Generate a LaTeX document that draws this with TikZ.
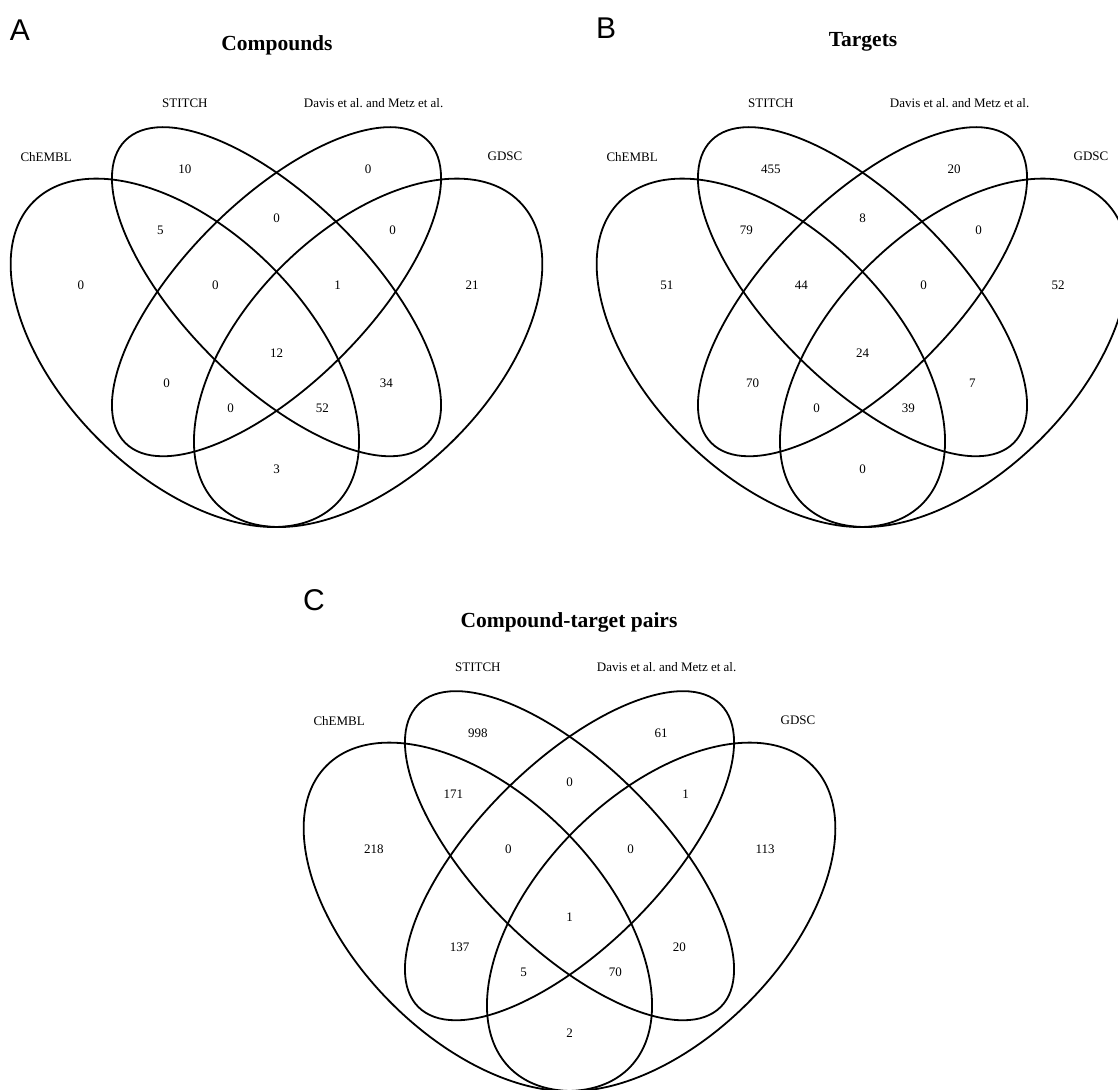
\documentclass[tikz,border=0pt]{standalone}
\usepackage{fontspec}
\setmainfont{Liberation Serif}
\newfontfamily\letterfont{Liberation Sans}

% four ellipses and the set names, in unit coordinates
\newcommand{\quadvenn}[1]{%
  \draw[set] (0.35,0.47) ellipse [x radius=0.35, y radius=0.20, rotate=-45];
  \draw[set] (0.50,0.57) ellipse [x radius=0.35, y radius=0.15, rotate=-45];
  \draw[set] (0.50,0.57) ellipse [x radius=0.35, y radius=0.15, rotate=45];
  \draw[set] (0.65,0.47) ellipse [x radius=0.35, y radius=0.20, rotate=45];
  \node[setname] (#1-chembl) at (0.123,0.791) {ChEMBL};
  \node[setname] (#1-stitch) at (0.350,0.879) {STITCH};
  \node[setname] (#1-davis)  at (0.659,0.879) {Davis et al.\ and Metz et al.};
  \node[setname] (#1-gdsc)   at (0.874,0.791) {GDSC};
}

\begin{document}
\begin{tikzpicture}[x=0.5pt, y=0.5pt,
  set/.style={draw, line width=0.9pt},
  setname/.style={font=\fontsize{6.5}{8}\selectfont, inner sep=0pt},
  count/.style={font=\fontsize{6.5}{8}\selectfont, inner sep=0pt},
  heading/.style={font=\bfseries\fontsize{10.75}{13}\selectfont},
  letter/.style={font=\letterfont\fontsize{15}{18}\selectfont}
]
\useasboundingbox (0,0) rectangle (1118,1090);

% A
\node[letter]  (letterA) at (20,1060)  {A};
\node[heading] (titleA)  at (277,1045) {Compounds};
\begin{scope}[shift={(-29,450)}, x=305.5pt, y=305.5pt]
  \quadvenn{A}
  \foreach \u/\v/\n [count=\i] in {0.18/0.58/0, 0.35/0.77/10, 0.65/0.77/0, 0.82/0.58/21,
      0.31/0.67/5, 0.50/0.69/0, 0.69/0.67/0, 0.40/0.58/0, 0.60/0.58/1, 0.50/0.47/12,
      0.32/0.42/0, 0.68/0.42/34, 0.425/0.38/0, 0.575/0.38/52, 0.50/0.28/3}
    \node[count] (A-n\i) at (\u,\v) {\n};
\end{scope}

% B
\node[letter]  (letterB) at (606,1062) {B};
\node[heading] (titleB)  at (863,1048) {Targets};
\begin{scope}[shift={(557,450)}, x=305.5pt, y=305.5pt]
  \quadvenn{B}
  \foreach \u/\v/\n [count=\i] in {0.18/0.58/51, 0.35/0.77/455, 0.65/0.77/20, 0.82/0.58/52,
      0.31/0.67/79, 0.50/0.69/8, 0.69/0.67/0, 0.40/0.58/44, 0.60/0.58/0, 0.50/0.47/24,
      0.32/0.42/70, 0.68/0.42/7, 0.425/0.38/0, 0.575/0.38/39, 0.50/0.28/0}
    \node[count] (B-n\i) at (\u,\v) {\n};
\end{scope}

% C
\node[letter]  (letterC) at (314,490) {C};
\node[heading] (titleC)  at (569,468) {Compound-target pairs};
\begin{scope}[shift={(264,-114)}, x=305.5pt, y=305.5pt]
  \quadvenn{C}
  \foreach \u/\v/\n [count=\i] in {0.18/0.58/218, 0.35/0.77/998, 0.65/0.77/61, 0.82/0.58/113,
      0.31/0.67/171, 0.50/0.69/0, 0.69/0.67/1, 0.40/0.58/0, 0.60/0.58/0, 0.50/0.47/1,
      0.32/0.42/137, 0.68/0.42/20, 0.425/0.38/5, 0.575/0.38/70, 0.50/0.28/2}
    \node[count] (C-n\i) at (\u,\v) {\n};
\end{scope}

\end{tikzpicture}
\end{document}
